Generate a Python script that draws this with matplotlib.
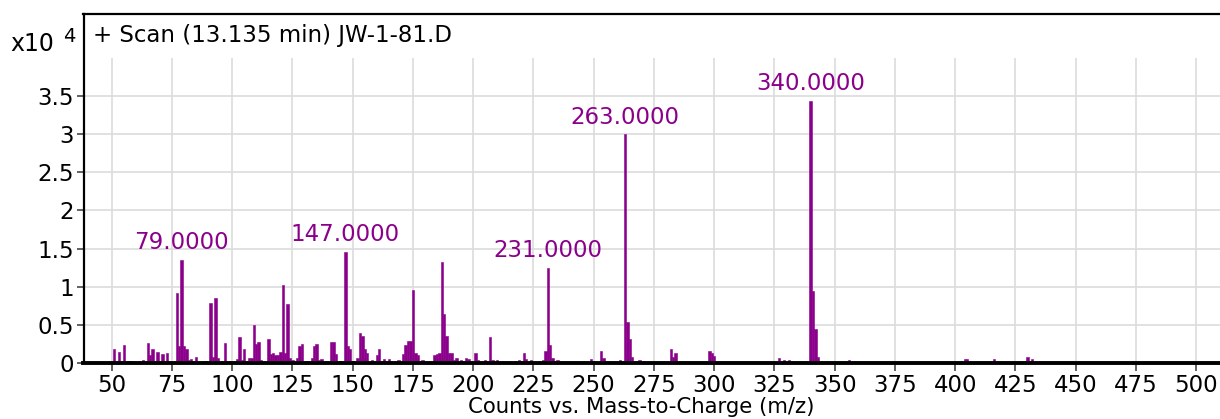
import matplotlib
matplotlib.use("Agg")
import matplotlib.pyplot as plt
from matplotlib.ticker import FuncFormatter

# ---- data (m/z, counts) ----
mz = [51, 53, 55, 57, 58, 63, 65, 66, 67, 69, 71, 73, 77, 78, 79, 80, 81, 82, 83, 85,
      89, 91, 92, 93, 94, 97, 99, 102, 103, 104, 105, 106, 107, 108, 109, 110, 111, 112,
      115, 116, 117, 118, 119, 120, 121, 122, 123, 124, 125, 127, 128, 129, 131, 133, 134,
      135, 136, 137, 141, 142, 143, 145, 147, 148, 149, 150, 152, 153, 154, 155, 156, 158,
      160, 161, 163, 165, 169, 171, 172, 173, 174, 175, 176, 177, 179, 184, 185, 186, 187,
      188, 189, 190, 191, 192, 193, 195, 197, 198, 201, 202, 205, 207, 208, 210, 219, 221,
      222, 224, 229, 230, 231, 232, 233, 235, 249, 253, 254, 261, 263, 264, 265, 266, 269,
      282, 283, 284, 298, 299, 300, 327, 329, 331, 340, 341, 342, 343, 356, 404, 405, 416,
      430, 432]
counts = [1900, 1500, 2300, 300, 300, 400, 2600, 1000, 1800, 1500, 1200, 1300, 9200, 2200,
          13500, 2200, 1900, 400, 500, 800, 300, 7900, 800, 8500, 600, 2600, 300, 500, 3400,
          400, 1900, 300, 700, 600, 5000, 2500, 2800, 400, 3200, 1200, 1300, 1000, 1000,
          1500, 10200, 1300, 7700, 600, 400, 600, 2200, 2500, 300, 600, 2200, 2500, 400, 500,
          2800, 2800, 1200, 300, 14600, 2200, 1900, 300, 600, 3900, 3600, 1900, 1300, 400,
          1000, 1900, 500, 500, 400, 1200, 2300, 2900, 2900, 9600, 1300, 1000, 400, 1000,
          1200, 1300, 13300, 6400, 3600, 1300, 1300, 400, 600, 400, 600, 500, 1300, 400, 400,
          3400, 400, 400, 400, 1300, 500, 400, 400, 1600, 12500, 2300, 600, 400, 500, 1600,
          700, 400, 30000, 5400, 3200, 800, 400, 1900, 800, 1300, 1600, 1300, 900, 700, 400,
          400, 34400, 9400, 4400, 800, 400, 500, 500, 500, 800, 500]

label_mz = [79, 147, 231, 263, 340]
label_text = ["79.0000", "147.0000", "231.0000", "263.0000", "340.0000"]

title_text = "+ Scan (13.135 min) JW-1-81.D"
xlabel_text = "Counts vs. Mass-to-Charge (m/z)"
xticks = list(range(50, 501, 25))
yticks = [0, 5000, 10000, 15000, 20000, 25000, 30000, 35000]

PURPLE = "#8B008B"
GRID = "#dcdcdc"

plt.rcParams['font.family'] = ['DejaVu Sans']

fig = plt.figure(figsize=(12.2, 4.19), dpi=100)
ax = fig.add_axes([83.5 / 1220, 56 / 419, 1 - 83.5 / 1220, (363 - 14) / 419])

ax.set_xlim(38.3, 509.9)
ax.set_ylim(0, 45740)

# grid
for yv in yticks[1:]:
    ax.axhline(yv, color=GRID, lw=1.2, zorder=0)
ax.vlines(xticks, 0, 40000, color=GRID, lw=1.2, zorder=0)

ax.bar(mz, counts, width=1.0, color=PURPLE, edgecolor=PURPLE, linewidth=0.4, zorder=2)

cmap = dict(zip(mz, counts))
for m, t in zip(label_mz, label_text):
    ax.annotate(t, xy=(m, cmap[m]), xytext=(0, 4), textcoords="offset points",
                ha="center", va="bottom", color=PURPLE, fontsize=16.5)

ax.set_xticks(xticks)
ax.set_yticks(yticks)
ax.yaxis.set_major_formatter(FuncFormatter(lambda v, p: "%g" % (v / 1e4)))
ax.tick_params(axis="x", direction="out", length=6, width=1.3, color="#555555",
               labelsize=16.5, pad=2)
ax.tick_params(axis="y", direction="out", length=5, width=1.3, color="#555555",
               labelsize=16.5, pad=2)

for s in ["left", "top"]:
    ax.spines[s].set_linewidth(1.6)
    ax.spines[s].set_color("black")
ax.spines["bottom"].set_linewidth(2.8)
ax.spines["bottom"].set_color("black")
ax.spines["right"].set_visible(False)

ax.text(0.008, 0.937, title_text, transform=ax.transAxes, ha="left", va="center",
        fontsize=16.5)

fig.text(10 / 1220, 1 - 44 / 419, "x10", ha="left", va="center", fontsize=17)
fig.text(63 / 1220, 1 - 36 / 419, "4", ha="left", va="center", fontsize=14)

fig.text(641 / 1220, 1 - 397 / 419, xlabel_text, ha="center", va="top", fontsize=15.3)

fig.savefig("out.png", dpi=100)
